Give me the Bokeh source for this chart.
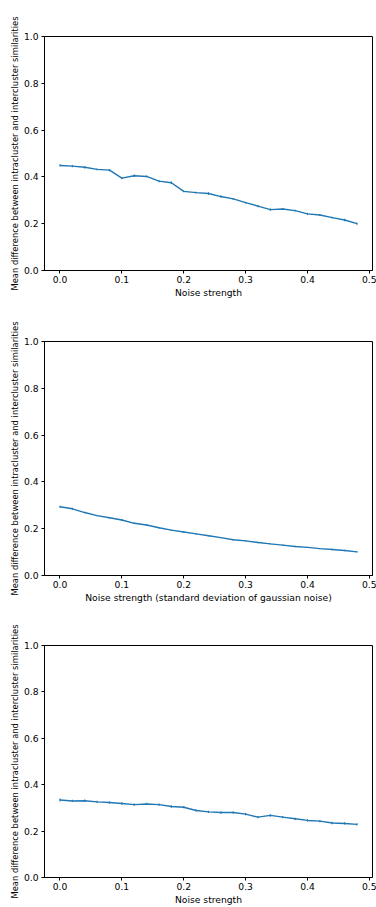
from bokeh.plotting import figure
from bokeh.layouts import column
from bokeh.models import FixedTicker, PrintfTickFormatter, Range1d, ColumnDataSource
from bokeh.embed import file_html
from bokeh.resources import INLINE

# ---- data ----
noise = [0.00, 0.02, 0.04, 0.06, 0.08, 0.10, 0.12, 0.14, 0.16, 0.18,
         0.20, 0.22, 0.24, 0.26, 0.28, 0.30, 0.32, 0.34, 0.36, 0.38,
         0.40, 0.42, 0.44, 0.46, 0.48]

diff_1 = [0.449, 0.446, 0.441, 0.432, 0.429, 0.395, 0.405, 0.402, 0.382, 0.375,
          0.338, 0.333, 0.329, 0.316, 0.306, 0.290, 0.275, 0.260, 0.263, 0.256,
          0.242, 0.237, 0.226, 0.216, 0.200]
err_1 = [0.005, 0.005, 0.005, 0.004, 0.005, 0.005, 0.005, 0.004, 0.005, 0.005,
         0.004, 0.004, 0.005, 0.005, 0.004, 0.004, 0.005, 0.005, 0.004, 0.004,
         0.005, 0.004, 0.004, 0.005, 0.004]

diff_2 = [0.294, 0.285, 0.269, 0.256, 0.247, 0.237, 0.223, 0.216, 0.204, 0.194,
          0.186, 0.178, 0.170, 0.162, 0.153, 0.148, 0.141, 0.135, 0.130, 0.124,
          0.120, 0.115, 0.111, 0.107, 0.101]
err_2 = [0.004, 0.004, 0.003, 0.003, 0.003, 0.004, 0.003, 0.003, 0.003, 0.003,
         0.003, 0.003, 0.003, 0.003, 0.003, 0.003, 0.003, 0.003, 0.003, 0.003,
         0.003, 0.003, 0.003, 0.003, 0.003]

diff_3 = [0.334, 0.330, 0.331, 0.326, 0.323, 0.319, 0.314, 0.317, 0.314, 0.306,
          0.303, 0.289, 0.283, 0.280, 0.280, 0.273, 0.260, 0.268, 0.260, 0.253,
          0.246, 0.243, 0.235, 0.233, 0.229]
err_3 = [0.006, 0.005, 0.005, 0.005, 0.005, 0.005, 0.005, 0.005, 0.005, 0.005,
         0.005, 0.005, 0.005, 0.005, 0.005, 0.005, 0.005, 0.005, 0.005, 0.005,
         0.005, 0.005, 0.005, 0.005, 0.005]

x_ticks = [0.0, 0.1, 0.2, 0.3, 0.4, 0.5]
y_ticks = [0.0, 0.2, 0.4, 0.6, 0.8, 1.0]
y_label = "Mean difference between intracluster and intercluster similarities"
x_labels = ["Noise strength",
            "Noise strength (standard deviation of gaussian noise)",
            "Noise strength"]

COLOR = "#1f77b4"
FONT = "DejaVu Sans"
FS = "9.2px"


def make_panel(ys, errs, xlabel, height, bottom):
    p = figure(width=376, height=height, output_backend="svg",
               toolbar_location=None, x_range=Range1d(-0.025, 0.505),
               y_range=Range1d(0, 1),
               min_border_left=44, min_border_right=4,
               min_border_top=36, min_border_bottom=bottom)
    p.background_fill_color = "white"
    p.border_fill_color = "white"
    p.outline_line_color = "black"
    p.outline_line_width = 1
    p.grid.visible = False
    src = ColumnDataSource(dict(
        x=noise, y=ys,
        lo=[v - e for v, e in zip(ys, errs)],
        hi=[v + e for v, e in zip(ys, errs)]))
    p.segment(x0="x", y0="lo", x1="x", y1="hi", source=src,
              line_color=COLOR, line_width=1.2)
    p.line(x="x", y="y", source=src, line_color=COLOR, line_width=1.4)

    for ax in (p.xaxis[0], p.yaxis[0]):
        ax.major_tick_in = 0
        ax.major_tick_out = 3
        ax.minor_tick_line_color = None
        ax.major_tick_line_color = "black"
        ax.axis_line_color = "black"
        ax.major_label_text_font = FONT
        ax.major_label_text_font_size = FS
        ax.major_label_text_color = "black"
        ax.axis_label_text_font = FONT
        ax.axis_label_text_font_size = FS
        ax.axis_label_text_font_style = "normal"
        ax.axis_label_text_color = "black"
        ax.formatter = PrintfTickFormatter(format="%.1f")

    p.xaxis[0].ticker = FixedTicker(ticks=x_ticks)
    p.yaxis[0].ticker = FixedTicker(ticks=y_ticks)
    p.xaxis[0].axis_label = xlabel
    p.yaxis[0].axis_label = y_label
    p.yaxis[0].axis_label_text_font_size = "8.4px"
    p.xaxis[0].major_label_standoff = 2
    p.xaxis[0].axis_label_standoff = 1
    p.yaxis[0].major_label_standoff = 3
    p.yaxis[0].axis_label_standoff = 1
    return p


p1 = make_panel(diff_1, err_1, x_labels[0], 305, 35)
p2 = make_panel(diff_2, err_2, x_labels[1], 304, 34)
p3 = make_panel(diff_3, err_3, x_labels[2], 298, 28)

layout = column(p1, p2, p3, spacing=0)

open("out.html", "w").write(file_html(layout, INLINE))
